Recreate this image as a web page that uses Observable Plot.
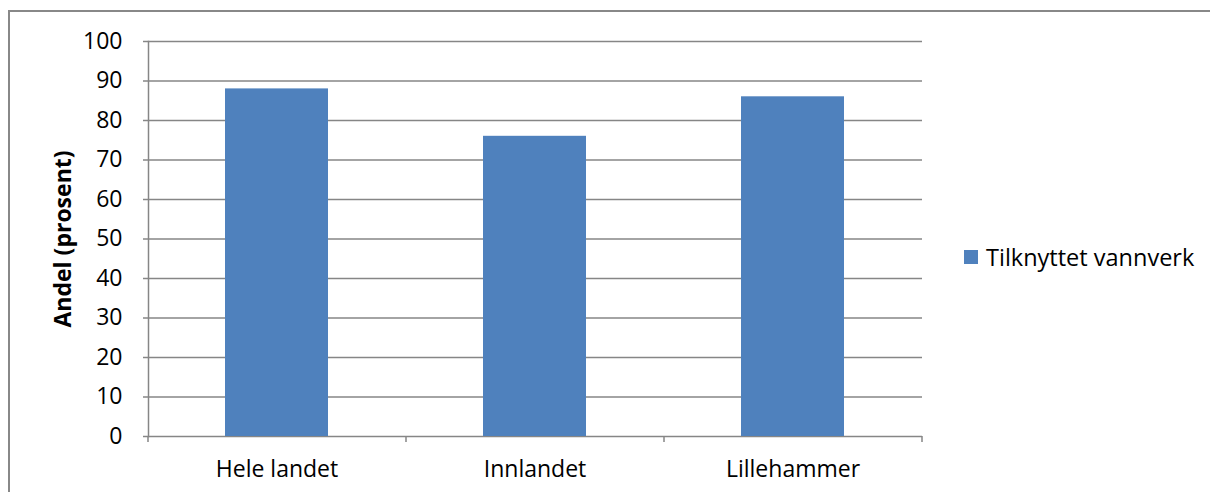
<!DOCTYPE html>
<html>
<head>
<meta charset="utf-8">
<script src="https://cdn.jsdelivr.net/npm/d3@7"></script>
<script src="https://cdn.jsdelivr.net/npm/@observablehq/plot@0.6"></script>
<style>
  html, body { margin: 0; padding: 0; background: #fff; }
  #wrap { position: relative; width: 1210px; height: 492px; overflow: hidden; font-family: "Open Sans", Lato, sans-serif; }
  #frame { position: absolute; left: 8px; top: 10px; width: 1220px; height: 500px; border: 2px solid #888; box-sizing: border-box; }
  #chart { position: absolute; left: 0; top: 0; }
  #legend { position: absolute; left: 964px; top: 241px; display: flex; align-items: center; font-size: 23.5px; color: #000; font-family: "Open Sans", sans-serif; }
  #legend .sw { width: 14px; height: 14px; background: #4F81BD; margin-right: 8px; }
</style>
</head>
<body>
<div id="wrap">
  <div id="frame"></div>
  <div id="chart"></div>
  <div id="legend"><div class="sw"></div><span id="legtext"></span></div>
</div>
<script>
const categories = ["Hele landet", "Innlandet", "Lillehammer"];
const values = [88, 76, 86];
const seriesName = "Tilknyttet vannverk";
const yTicks = [0, 10, 20, 30, 40, 50, 60, 70, 80, 90, 100];
const yLabel = "Andel (prosent)";

const data = categories.map((c, i) => ({category: c, value: values[i]}));
document.getElementById("legtext").textContent = seriesName;

const W = 1210, H = 492, mL = 148, mR = 288, mT = 41, mB = 56;
const step = (W - mL - mR) / categories.length;
const grid = "#868686";
const font = "'Open Sans', Lato, sans-serif";

const plot = Plot.plot({
  width: W,
  height: H,
  marginLeft: mL,
  marginRight: mR,
  marginTop: mT,
  marginBottom: mB,
  style: {fontFamily: font, fontSize: "23px", background: "transparent", color: "#000", overflow: "visible"},
  x: {domain: categories, paddingInner: 0.6, paddingOuter: 0.3, axis: null},
  y: {domain: [0, 100], axis: null},
  marks: [
    Plot.ruleY(yTicks, {stroke: grid, strokeWidth: 1.5, strokeOpacity: 1}),
    Plot.barY(data, {x: "category", y: "value", fill: "#4F81BD"}),
    Plot.frame({anchor: "left", stroke: grid, strokeWidth: 1.5, strokeOpacity: 1}),
    // category boundary tick marks below the baseline
    Plot.ruleX(categories, {x: d => d, y1: 0, y2: 0, dx: -step / 2, insetBottom: -6, stroke: grid, strokeWidth: 1.5, strokeOpacity: 1}),
    Plot.ruleX(categories.slice(-1), {x: d => d, y1: 0, y2: 0, dx: step / 2, insetBottom: -6, stroke: grid, strokeWidth: 1.5, strokeOpacity: 1}),
    Plot.axisY(yTicks, {ticks: yTicks, tickSize: 5, tickPadding: 21, stroke: grid, strokeWidth: 1.5, strokeOpacity: 1, fontSize: 23, label: null}),
    Plot.axisX({tickSize: 0, tickPadding: 24, fontSize: 23, label: null}),
    Plot.text([yLabel], {frameAnchor: "left", dx: -85, rotate: -90, textAnchor: "middle", fontWeight: "bold", fontSize: 23, text: d => d})
  ]
});
document.getElementById("chart").appendChild(plot);
</script>
</body>
</html>
